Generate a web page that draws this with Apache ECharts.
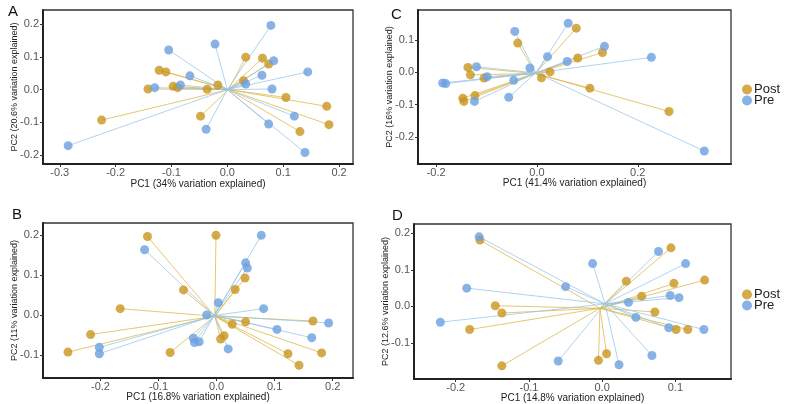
<!DOCTYPE html>
<html>
<head>
<meta charset="utf-8">
<script src="https://cdn.jsdelivr.net/npm/echarts@6/dist/echarts.min.js"></script>
<style>html,body{margin:0;padding:0;background:#fff;}#c{width:789px;height:404px;}</style>
</head>
<body>
<div id="c"></div>
<script>
// ---- Panel A ----
const A_pre = [[0.078,0.196],[-0.105,0.121],[-0.022,0.139],[0.083,0.088],[0.144,0.054],[0.062,0.044],[-0.067,0.042],[0.033,0.017],[0.080,0.002],[-0.130,0.006],[-0.084,0.014],[0.120,-0.081],[0.074,-0.105],[-0.038,-0.121],[0.139,-0.192],[-0.285,-0.171]];
const A_post = [[0.033,0.099],[0.063,0.096],[0.074,0.078],[-0.122,0.059],[-0.110,0.054],[0.029,0.027],[-0.017,0.014],[-0.142,0.002],[-0.097,0.010],[-0.089,0.006],[-0.036,0.001],[0.105,-0.024],[0.178,-0.051],[0.182,-0.107],[0.130,-0.128],[-0.048,-0.081],[-0.225,-0.093]];
const A_preCentroid = [0.0, 0.0];
const A_postCentroid = [0.002, 0.0];
const A_xTicks = [-0.3,-0.2,-0.1,0,0.1,0.2];
const A_yTicks = [-0.2,-0.1,0,0.1,0.2];
// ---- Panel B ----
const B_pre = [[0.077,0.200],[-0.124,0.164],[0.050,0.131],[0.053,0.118],[0.003,0.031],[0.081,0.016],[-0.017,0.000],[0.193,-0.020],[0.104,-0.036],[0.164,-0.057],[-0.040,-0.058],[-0.030,-0.067],[-0.038,-0.069],[0.020,-0.085],[-0.202,-0.081],[-0.202,-0.097]];
const B_post = [[-0.119,0.197],[-0.001,0.200],[0.049,0.093],[0.032,0.064],[-0.057,0.063],[-0.166,0.016],[0.166,-0.015],[0.050,-0.017],[0.027,-0.023],[0.013,-0.052],[0.007,-0.060],[-0.217,-0.049],[-0.256,-0.093],[-0.080,-0.094],[0.123,-0.097],[0.181,-0.095],[0.142,-0.126]];
const B_preCentroid = [-0.004, -0.001];
const B_postCentroid = [-0.003, -0.003];
const B_xTicks = [-0.2,-0.1,0,0.1,0.2];
const B_yTicks = [-0.1,0,0.1,0.2];
// ---- Panel C ----
const C_pre = [[0.062,0.151],[-0.044,0.126],[0.134,0.080],[0.227,0.046],[0.021,0.048],[0.060,0.033],[-0.014,0.013],[-0.120,0.017],[-0.099,-0.014],[-0.046,-0.025],[-0.187,-0.033],[-0.181,-0.035],[-0.056,-0.077],[-0.124,-0.090],[0.332,-0.243]];
const C_post = [[0.078,0.136],[-0.038,0.090],[0.130,0.061],[0.081,0.044],[-0.137,0.015],[-0.132,-0.008],[-0.105,-0.018],[0.026,0.001],[0.009,-0.017],[0.105,-0.049],[0.262,-0.121],[-0.123,-0.072],[-0.147,-0.080],[-0.145,-0.090]];
const C_preCentroid = [-0.002, -0.002];
const C_postCentroid = [-0.003, -0.004];
const C_xTicks = [-0.2,0,0.2];
const C_yTicks = [-0.2,-0.1,0,0.1];
// ---- Panel D ----
const D_pre = [[-0.168,0.190],[0.077,0.150],[-0.013,0.117],[0.114,0.117],[-0.050,0.054],[-0.185,0.050],[0.093,0.030],[0.105,0.024],[0.036,0.011],[0.046,-0.030],[0.091,-0.058],[0.139,-0.063],[-0.221,-0.043],[0.068,-0.134],[-0.060,-0.149],[0.023,-0.159]];
const D_post = [[-0.167,0.181],[0.094,0.160],[0.033,0.069],[0.098,0.063],[0.140,0.072],[0.054,0.028],[-0.146,0.002],[-0.137,-0.018],[0.072,-0.015],[0.101,-0.063],[0.117,-0.063],[-0.181,-0.063],[0.006,-0.129],[-0.005,-0.147],[-0.137,-0.162]];
const D_preCentroid = [0.004, 0.007];
const D_postCentroid = [-0.003, -0.005];
const D_xTicks = [-0.2,-0.1,0,0.1];
const D_yTicks = [-0.1,0,0.1,0.2];

const xTitles = ['PC1 (34% variation explained)','PC1 (16.8% variation explained)','PC1 (41.4% variation explained)','PC1 (14.8% variation explained)'];
const yTitles = ['PC2 (20.6% variation explained)','PC2 (11% variation explained)','PC2 (16% variation explained)','PC2 (12.6% variation explained)'];
const panelLetters = ['A','B','C','D'];

const POST_COLOR = '#C9951D', PRE_COLOR = '#6BA0E0';
const POST_LINE = 'rgba(222,186,80,0.8)', PRE_LINE = 'rgba(150,196,232,0.75)';

const panels = [
  {pre:A_pre, post:A_post, cPre:A_preCentroid, cPost:A_postCentroid, xt:A_xTicks, yt:A_yTicks,
   grid:{left:43, top:10, width:310, height:154}, xr:[-0.33,0.225], yr:[-0.227,0.243], xGap:15, letter:[13,12]},
  {pre:B_pre, post:B_post, cPre:B_preCentroid, cPost:B_postCentroid, xt:B_xTicks, yt:B_yTicks,
   grid:{left:43, top:223, width:310, height:155}, xr:[-0.299,0.235], yr:[-0.158,0.231], xGap:14, letter:[17,215]},
  {pre:C_pre, post:C_post, cPre:C_preCentroid, cPost:C_postCentroid, xt:C_xTicks, yt:C_yTicks,
   grid:{left:418, top:10, width:313, height:154}, xr:[-0.236,0.385], yr:[-0.283,0.192], xGap:14, letter:[396,15]},
  {pre:D_pre, post:D_post, cPre:D_preCentroid, cPost:D_postCentroid, xt:D_xTicks, yt:D_yTicks,
   grid:{left:414, top:224, width:317, height:155}, xr:[-0.257,0.176], yr:[-0.198,0.225], xGap:14, letter:[397,216]}
];

const font = 'Liberation Sans, Arial, Helvetica, sans-serif';
const grids = [], xAxes = [], yAxes = [], series = [], graphics = [];
panels.forEach((p, i) => {
  grids.push(Object.assign({show:true, borderColor:'#333', borderWidth:1.3, backgroundColor:'#fff'}, p.grid));
  const common = {
    gridIndex:i, type:'value', splitLine:{show:false},
    axisLine:{show:true, onZero:false, lineStyle:{color:'#222', width:2}},
    nameLocation:'middle', nameMoveOverlap:false
  };
  xAxes.push(Object.assign({}, common, {
    min:p.xr[0], max:p.xr[1], name:xTitles[i], nameGap:p.xGap,
    nameTextStyle:{fontFamily:font, fontSize:10, color:'#222'},
    axisTick:{show:true, length:3, lineStyle:{color:'#333'}, customValues:p.xt},
    axisLabel:{customValues:p.xt, formatter:v=>v.toFixed(1), fontFamily:font, fontSize:11, color:'#555', margin:3}
  }));
  yAxes.push(Object.assign({}, common, {
    min:p.yr[0], max:p.yr[1], name:yTitles[i], nameGap:24,
    nameTextStyle:{fontFamily:font, fontSize:9, color:'#222'},
    axisTick:{show:true, length:3, lineStyle:{color:'#333'}, customValues:p.yt},
    axisLabel:{customValues:p.yt, formatter:v=>v.toFixed(1), fontFamily:font, fontSize:11, color:'#555', margin:4}
  }));
  series.push({type:'lines', coordinateSystem:'cartesian2d', xAxisIndex:i, yAxisIndex:i, silent:true,
    lineStyle:{color:POST_LINE, width:1, opacity:1}, data:p.post.map(pt=>({coords:[p.cPost, pt]}))});
  series.push({type:'lines', coordinateSystem:'cartesian2d', xAxisIndex:i, yAxisIndex:i, silent:true,
    lineStyle:{color:PRE_LINE, width:1, opacity:1}, data:p.pre.map(pt=>({coords:[p.cPre, pt]}))});
  series.push({name:'Post', type:'scatter', xAxisIndex:i, yAxisIndex:i, symbolSize:9,
    itemStyle:{color:POST_COLOR}, data:p.post});
  series.push({name:'Pre', type:'scatter', xAxisIndex:i, yAxisIndex:i, symbolSize:9,
    itemStyle:{color:PRE_COLOR}, data:p.pre});
  graphics.push({type:'text', left:p.letter[0]-5, top:p.letter[1]-8,
    style:{text:panelLetters[i], font:'15px '+font, fill:'#111'}});
});

const legendBase = {orient:'vertical', icon:'circle', itemWidth:10, itemHeight:10, itemGap:-2, padding:0,
  data:['Post','Pre'], selectedMode:false,
  textStyle:{fontFamily:font, fontSize:13, color:'#222', padding:[0,0,0,-3]}};

const chart = echarts.init(document.getElementById('c'), null, {renderer:'canvas'});
chart.setOption({
  animation:false,
  backgroundColor:'#fff',
  grid:grids, xAxis:xAxes, yAxis:yAxes, series:series,
  legend:[Object.assign({left:742, top:83}, legendBase), Object.assign({left:742, top:288}, legendBase)],
  graphic:graphics
});
</script>
</body>
</html>
